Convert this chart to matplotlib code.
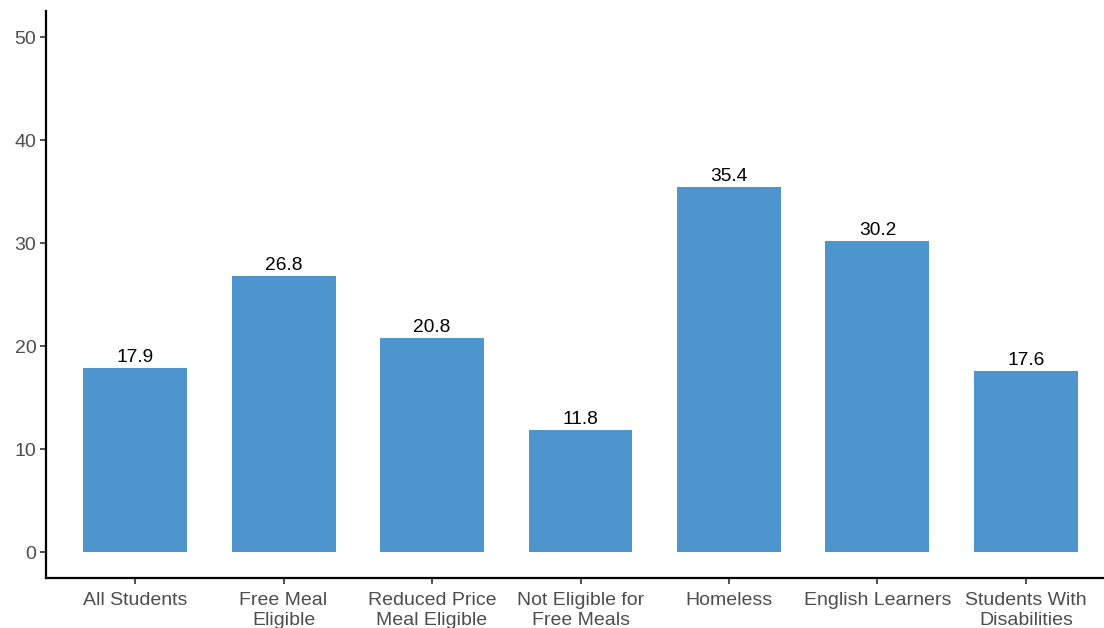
import numpy as np
import matplotlib.pyplot as plt

plt.rcParams['font.family'] = ['Liberation Sans', 'DejaVu Sans']

groups = ["All Students", "Free Meal\nEligible", "Reduced Price\nMeal Eligible",
          "Not Eligible for\nFree Meals", "Homeless", "English Learners",
          "Students With\nDisabilities"]
rates = [17.9, 26.8, 20.8, 11.8, 35.4, 30.2, 17.6]
yticks = [0, 10, 20, 30, 40, 50]

fig = plt.figure(figsize=(11.04, 6.28), dpi=100)
ax = fig.add_axes([46 / 1104, 0.08, 1069 / 1104, 0.902])

x = np.arange(1, len(groups) + 1)
ax.bar(x, rates, width=0.7, color="#4e94cd")
for xi, v in zip(x, rates):
    ax.annotate(f"{v:.1f}", (xi, v), xytext=(0, 1.5), textcoords="offset points",
                ha="center", va="bottom", fontsize=13.8, color="black")

ax.set_xlim(0.4, 7.6)
ax.set_ylim(-2.5, 52.5)
ax.set_xticks(x)
ax.set_xticklabels(groups, linespacing=1.25)
ax.set_yticks(yticks)
ax.tick_params(axis="both", labelsize=14, labelcolor="#4d4d4d", color="#333333",
               length=4, width=1.2, pad=3)
ax.tick_params(axis="x", pad=6)

for s in ["top", "right"]:
    ax.spines[s].set_visible(False)
for s in ["left", "bottom"]:
    ax.spines[s].set_linewidth(1.6)
    ax.spines[s].set_color("black")

fig.savefig("out.png", dpi=100)
